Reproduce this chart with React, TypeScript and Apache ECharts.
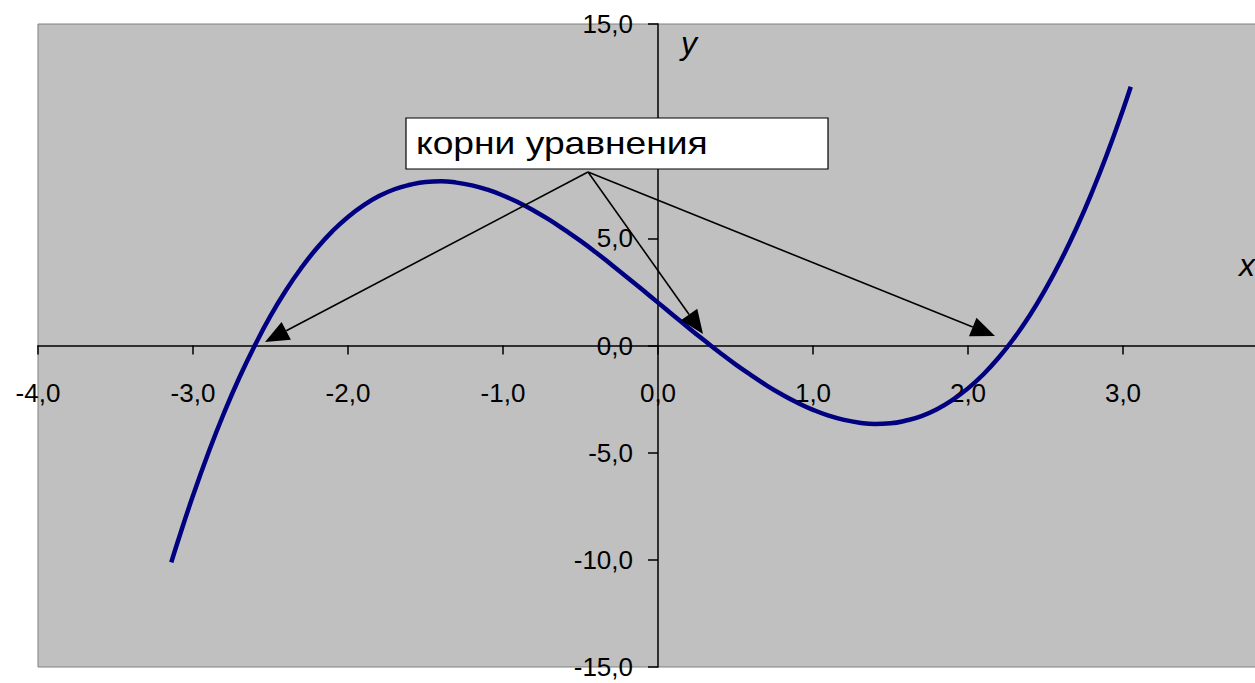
import React, { useEffect, useRef } from "react";
import * as echarts from "echarts";

const xValues = [-3.14, -3.1, -3.0, -2.9, -2.8, -2.7, -2.6, -2.5, -2.4, -2.3, -2.2, -2.1, -2.0, -1.9, -1.8, -1.7, -1.6, -1.5, -1.4, -1.3, -1.2, -1.1, -1.0, -0.9, -0.8, -0.7, -0.6, -0.5, -0.4, -0.3, -0.2, -0.1, 0.0, 0.1, 0.2, 0.3, 0.4, 0.5, 0.6, 0.7, 0.8, 0.9, 1.0, 1.1, 1.2, 1.3, 1.4, 1.5, 1.6, 1.7, 1.8, 1.9, 2.0, 2.1, 2.2, 2.3, 2.4, 2.5, 2.6, 2.7, 2.8, 2.9, 3.0, 3.05];
const yValues = [-10.12, -9.19, -7.0, -4.99, -3.15, -1.48, 0.02, 1.38, 2.58, 3.63, 4.55, 5.34, 6.0, 6.54, 6.97, 7.29, 7.5, 7.63, 7.66, 7.6, 7.47, 7.27, 7.0, 6.67, 6.29, 5.86, 5.38, 4.88, 4.34, 3.77, 3.19, 2.6, 2.0, 1.4, 0.81, 0.23, -0.34, -0.88, -1.38, -1.86, -2.29, -2.67, -3.0, -3.27, -3.47, -3.6, -3.66, -3.63, -3.5, -3.29, -2.97, -2.54, -2.0, -1.34, -0.55, 0.37, 1.42, 2.63, 3.98, 5.48, 7.15, 8.99, 11.0, 12.07];

const xAxisRange = [-4, 4];
const yAxisRange = [-15, 15];
const calloutText = "корни уравнения";

const fmt = (v: number) => v.toFixed(1).replace(".", ",");

const W = 1255;
const H = 683;
const GRID = { left: 38, right: -23, top: 24, bottom: 16 };

function arrow(x1: number, y1: number, x2: number, y2: number) {
  const dx = x2 - x1;
  const dy = y2 - y1;
  const len = Math.sqrt(dx * dx + dy * dy);
  const ux = dx / len;
  const uy = dy / len;
  const hl = 24;
  const hw = 10;
  const bx = x2 - ux * hl;
  const by = y2 - uy * hl;
  return [
    {
      type: "line",
      shape: { x1, y1, x2: bx, y2: by },
      style: { stroke: "#000", lineWidth: 1.6 },
      z: 100,
    },
    {
      type: "polygon",
      shape: {
        points: [
          [x2, y2],
          [bx - uy * hw, by + ux * hw],
          [bx + uy * hw, by - ux * hw],
        ],
      },
      style: { fill: "#000" },
      z: 100,
    },
  ];
}

export default function App() {
  const ref = useRef<HTMLDivElement>(null);
  useEffect(() => {
    if (!ref.current) return;
    const chart = echarts.init(ref.current, null, { renderer: "svg" });
    const data = xValues.map((x, i) => [x, yValues[i]]);
    const gridW = W - GRID.left - GRID.right;
    const gridH = H - GRID.top - GRID.bottom;
    // place axes at the zero lines
    const zeroXpx = ((0 - xAxisRange[0]) / (xAxisRange[1] - xAxisRange[0])) * gridW;
    const zeroYpx = ((0 - yAxisRange[0]) / (yAxisRange[1] - yAxisRange[0])) * gridH;
    const labelStyle = {
      color: "#000",
      fontSize: 26,
      fontFamily: "'Liberation Sans', Arial, sans-serif",
    };
    chart.setOption({
      animation: false,
      backgroundColor: "#fff",
      grid: {
        ...GRID,
        outerBoundsMode: "none",
        containLabel: false,
        show: true,
        backgroundColor: "#C0C0C0",
        borderColor: "#808080",
        borderWidth: 1,
      },
      xAxis: {
        type: "value",
        position: "bottom",
        offset: -zeroYpx,
        min: xAxisRange[0],
        max: xAxisRange[1],
        interval: 1,
        axisLine: { onZero: false, lineStyle: { color: "#000", width: 1.5 } },
        axisTick: { show: true, length: 9, lineStyle: { color: "#000", width: 1.5 } },
        axisLabel: { ...labelStyle, margin: 34, formatter: fmt, showMinLabel: true, showMaxLabel: false, hideOverlap: false },
        splitLine: { show: false },
      },
      yAxis: {
        type: "value",
        position: "left",
        offset: -zeroXpx,
        min: yAxisRange[0],
        max: yAxisRange[1],
        interval: 5,
        axisLine: { show: true, onZero: false, lineStyle: { color: "#000", width: 1.5 } },
        axisTick: { show: true, length: 10, lineStyle: { color: "#000", width: 1.5 } },
        axisLabel: { ...labelStyle, margin: 25, formatter: fmt, showMinLabel: true, showMaxLabel: true, hideOverlap: false },
        splitLine: { show: false },
      },
      series: [
        {
          type: "line",
          data,
          smooth: true,
          showSymbol: false,
          symbol: "none",
          lineStyle: { color: "#000080", width: 4.5 },
          z: 5,
        },
      ],
      graphic: [
        {
          type: "rect",
          shape: { x: 406, y: 118, width: 422, height: 51 },
          style: { fill: "#fff", stroke: "#000", lineWidth: 1.2 },
          z: 110,
        },
        {
          type: "text",
          x: 416,
          y: 143,
          scaleX: 1.2,
          style: {
            text: calloutText,
            fill: "#000",
            fontSize: 31,
            fontFamily: "'Liberation Sans', Arial, sans-serif",
            verticalAlign: "middle",
            align: "left",
          },
          z: 111,
        },
        ...arrow(588, 172, 265, 342),
        ...arrow(588, 172, 703, 334),
        ...arrow(588, 172, 995, 336),
        {
          type: "text",
          x: 689,
          y: 43,
          style: {
            text: "y",
            fill: "#000",
            fontSize: 32,
            fontStyle: "italic",
            fontFamily: "'Liberation Sans', Arial, sans-serif",
            align: "center",
            verticalAlign: "middle",
          },
          z: 100,
        },
        {
          type: "text",
          x: 1247,
          y: 265,
          style: {
            text: "x",
            fill: "#000",
            fontSize: 32,
            fontStyle: "italic",
            fontFamily: "'Liberation Sans', Arial, sans-serif",
            align: "center",
            verticalAlign: "middle",
          },
          z: 100,
        },
      ],
    });
    return () => chart.dispose();
  }, []);
  return (
    <div
      ref={ref}
      style={{ position: "absolute", left: 0, top: 0, width: W, height: H }}
    />
  );
}
